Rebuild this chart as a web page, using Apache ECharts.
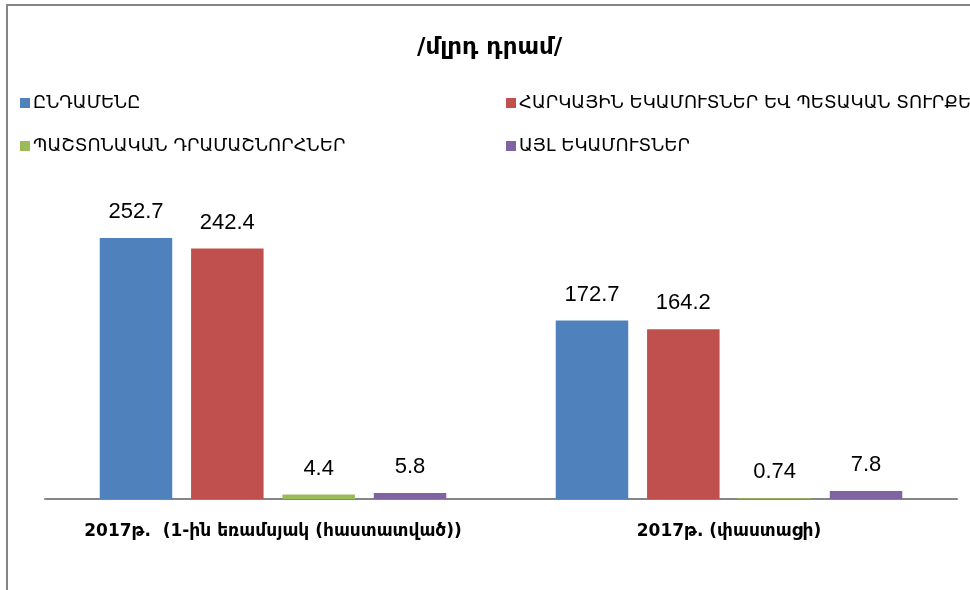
<!DOCTYPE html>
<html>
<head>
<meta charset="utf-8">
<script src="https://cdn.jsdelivr.net/npm/echarts@6/dist/echarts.min.js"></script>
<style>
    html, body {margin: 0; padding: 0; background: #fff;}
    #main {width: 970px; height: 590px;}
</style>
</head>
<body>
<div id="main"></div>
<script>
// կատեգորիաներ և արժեքներ
var categories = ['2017թ.  (1-ին եռամսյակ (հաստատված))', '2017թ. (փաստացի)'];
var seriesNames = [
    'ԸՆԴԱՄԵՆԸ',
    'ՀԱՐԿԱՅԻՆ ԵԿԱՄՈՒՏՆԵՐ ԵՎ ՊԵՏԱԿԱՆ ՏՈՒՐՔԵՐ',
    'ՊԱՇՏՈՆԱԿԱՆ ԴՐԱՄԱՇՆՈՐՀՆԵՐ',
    'ԱՅԼ ԵԿԱՄՈՒՏՆԵՐ'
];
var totalValues = [252.7, 172.7];
var taxValues = [242.4, 164.2];
var grantValues = [4.4, 0.74];
var otherValues = [5.8, 7.8];
var colors = ['#4F81BD', '#C0504D', '#9BBB59', '#8064A2'];

var myChart = echarts.init(document.getElementById('main'));

var armFont = 'DejaVu Sans, sans-serif';

function makeSeries(name, data, color) {
    return {
        name: name,
        type: 'bar',
        barGap: '26%',
        barCategoryGap: '24%',
        itemStyle: {color: color},
        label: {
            show: true,
            position: 'top',
            distance: 15,
            color: '#000',
            fontSize: 22,
            fontFamily: 'Liberation Sans, sans-serif'
        },
        data: data
    };
}

function makeLegend(name, left, top) {
    return {
        data: [name],
        left: left,
        top: top,
        icon: 'rect',
        itemWidth: 10,
        itemHeight: 10,
        itemGap: 3,
        padding: 0,
        textStyle: {fontSize: 18, color: '#000', fontFamily: armFont, padding: [0, 0, 0, -2]}
    };
}

var option = {
    animation: false,
    title: {
        text: '/մլրդ դրամ/',
        left: 412,
        top: 32,
        textStyle: {fontSize: 23, fontWeight: 'bold', color: '#000', fontFamily: armFont}
    },
    legend: [
        makeLegend(seriesNames[0], 20, 94),
        makeLegend(seriesNames[1], 506, 94),
        makeLegend(seriesNames[2], 20, 137),
        makeLegend(seriesNames[3], 506, 137)
    ],
    graphic: [{
        type: 'polyline',
        shape: {points: [[7, 600], [7, 5], [975, 5]]},
        style: {stroke: '#868686', lineWidth: 2, fill: null}
    }],
    grid: {left: 45, right: 13, top: 189, bottom: 91},
    xAxis: {
        type: 'category',
        data: categories,
        axisLine: {lineStyle: {color: '#868686', width: 2}},
        axisTick: {show: false},
        axisLabel: {
            interval: 0,
            margin: 24,
            fontSize: 17,
            fontWeight: 'bold',
            color: '#000',
            fontFamily: armFont
        }
    },
    yAxis: {
        type: 'value',
        min: 0,
        max: 300,
        show: false
    },
    series: [
        makeSeries(seriesNames[0], totalValues, colors[0]),
        makeSeries(seriesNames[1], taxValues, colors[1]),
        makeSeries(seriesNames[2], grantValues, colors[2]),
        makeSeries(seriesNames[3], otherValues, colors[3])
    ]
};

myChart.setOption(option);
</script>
</body>
</html>
